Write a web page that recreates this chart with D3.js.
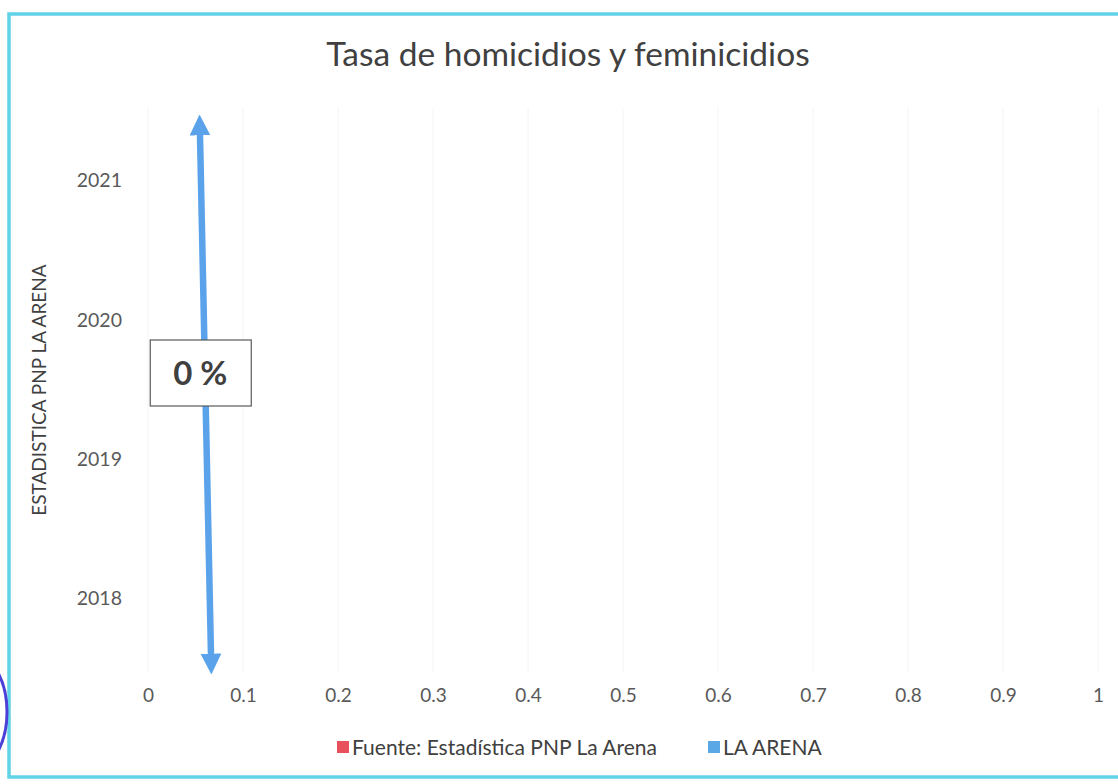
<!DOCTYPE html>
<html>
<head>
<meta charset="utf-8">
<script src="https://cdn.jsdelivr.net/npm/d3@7"></script>
<style>
  body { margin: 0; background: #fff; }
  svg { font-family: Lato, "Open Sans", sans-serif; }
</style>
</head>
<body>
<svg id="chart"></svg>
<script>
// data: every year is 0
var years = ["2018", "2019", "2020", "2021"];
var fuenteValues = [0, 0, 0, 0];
var laArenaValues = [0, 0, 0, 0];
var xTicks = [0, 0.1, 0.2, 0.3, 0.4, 0.5, 0.6, 0.7, 0.8, 0.9, 1];
var seriesNames = ["Fuente: Estadística PNP La Arena", "LA ARENA"];
var seriesColors = ["#e8505b", "#5aa9e6"];
var arrowLabel = "0 %";

var W = 1118, H = 784;
var margin = { top: 108, right: 20, bottom: 112, left: 148 };
var width = 1098 - margin.left;
var height = H - margin.top - margin.bottom;

var svg = d3.select("#chart").attr("width", W).attr("height", H);

// outer frame
svg.append("rect")
  .attr("x", 9).attr("y", 14)
  .attr("width", W + 20).attr("height", 763)
  .attr("fill", "none")
  .attr("stroke", "#62d2e6")
  .attr("stroke-width", 3.5);

// stamp edge on the left (scan)
svg.append("ellipse")
  .attr("cx", -30).attr("cy", 712).attr("rx", 37).attr("ry", 60)
  .attr("fill", "none").attr("stroke", "#4b3fd8").attr("stroke-width", 3);

svg.append("text")
  .attr("x", 568).attr("y", 66)
  .attr("text-anchor", "middle")
  .attr("font-size", 33.5)
  .attr("fill", "#404040")
  .text("Tasa de homicidios y feminicidios");

var g = svg.append("g").attr("transform", "translate(" + margin.left + "," + margin.top + ")");

var x = d3.scaleLinear().domain([0, 1]).range([0, width]);
var y = d3.scaleBand().domain(years.slice().reverse()).range([0, height]).paddingInner(0.35).paddingOuter(0.2);

// faint gridlines
g.append("g")
  .selectAll("line")
  .data(xTicks)
  .enter()
  .append("line")
  .attr("x1", d => x(d)).attr("x2", d => x(d))
  .attr("y1", 0).attr("y2", height)
  .attr("stroke", "#f4f4f4")
  .attr("stroke-width", 1);

// x axis labels
var xAxis = g.append("g")
  .attr("transform", "translate(0," + height + ")")
  .call(d3.axisBottom(x).tickValues(xTicks).tickSize(0).tickPadding(17).tickFormat(d3.format("~g")));
xAxis.select(".domain").remove();
xAxis.selectAll("text").attr("font-size", 19).attr("fill", "#595959").attr("font-family", "Lato, sans-serif");

// y axis labels
var yAxis = g.append("g")
  .call(d3.axisLeft(y).tickSize(0).tickPadding(26));
yAxis.select(".domain").remove();
yAxis.selectAll("text").attr("font-size", 19.5).attr("fill", "#595959").attr("font-family", "Lato, sans-serif");

svg.append("text")
  .attr("transform", "translate(46,390) rotate(-90)")
  .attr("text-anchor", "middle")
  .attr("font-size", 19)
  .attr("fill", "#404040")
  .text("ESTADISTICA PNP LA ARENA");

// bars (zero length)
var sub = d3.scaleBand().domain([0, 1]).range([0, y.bandwidth()]);
[fuenteValues, laArenaValues].forEach(function (vals, i) {
  g.selectAll(".bar" + i)
    .data(vals)
    .enter()
    .append("rect")
    .attr("class", "bar" + i)
    .attr("x", 0)
    .attr("y", (d, j) => y(years[j]) + sub(i))
    .attr("width", d => x(d))
    .attr("height", sub.bandwidth())
    .attr("fill", seriesColors[i]);
});

// hand drawn arrow
svg.append("defs").append("marker")
  .attr("id", "head")
  .attr("viewBox", "0 0 10 10")
  .attr("refX", 5).attr("refY", 5)
  .attr("markerWidth", 3.2).attr("markerHeight", 3.2)
  .attr("orient", "auto-start-reverse")
  .append("path")
  .attr("d", "M0,0 L10,5 L0,10 z")
  .attr("fill", "#5aa2ea");

g.append("line")
  .attr("x1", x(0.0545)).attr("y1", 115 - margin.top + 10)
  .attr("x2", x(0.0665)).attr("y2", height - 8)
  .attr("stroke", "#5aa2ea")
  .attr("stroke-width", 6.5)
  .attr("marker-start", "url(#head)")
  .attr("marker-end", "url(#head)");

var box = g.append("g").attr("transform", "translate(" + x(0.055) + "," + (373 - margin.top) + ")");
box.append("rect")
  .attr("x", -50).attr("y", -33).attr("width", 101).attr("height", 66)
  .attr("fill", "#fff").attr("stroke", "#595959").attr("stroke-width", 1.2);
box.append("text")
  .attr("text-anchor", "middle").attr("y", 12)
  .attr("font-size", 33).attr("font-weight", "bold").attr("fill", "#404040")
  .text(arrowLabel);

// legend
var legendX = [337, 708];
var legend = svg.append("g");
seriesNames.forEach(function (name, i) {
  legend.append("rect")
    .attr("x", legendX[i]).attr("y", 741).attr("width", 12).attr("height", 12)
    .attr("fill", seriesColors[i]);
  legend.append("text")
    .attr("x", legendX[i] + 15).attr("y", 755)
    .attr("font-size", 21).attr("fill", "#404040")
    .text(name);
});
</script>
</body>
</html>
